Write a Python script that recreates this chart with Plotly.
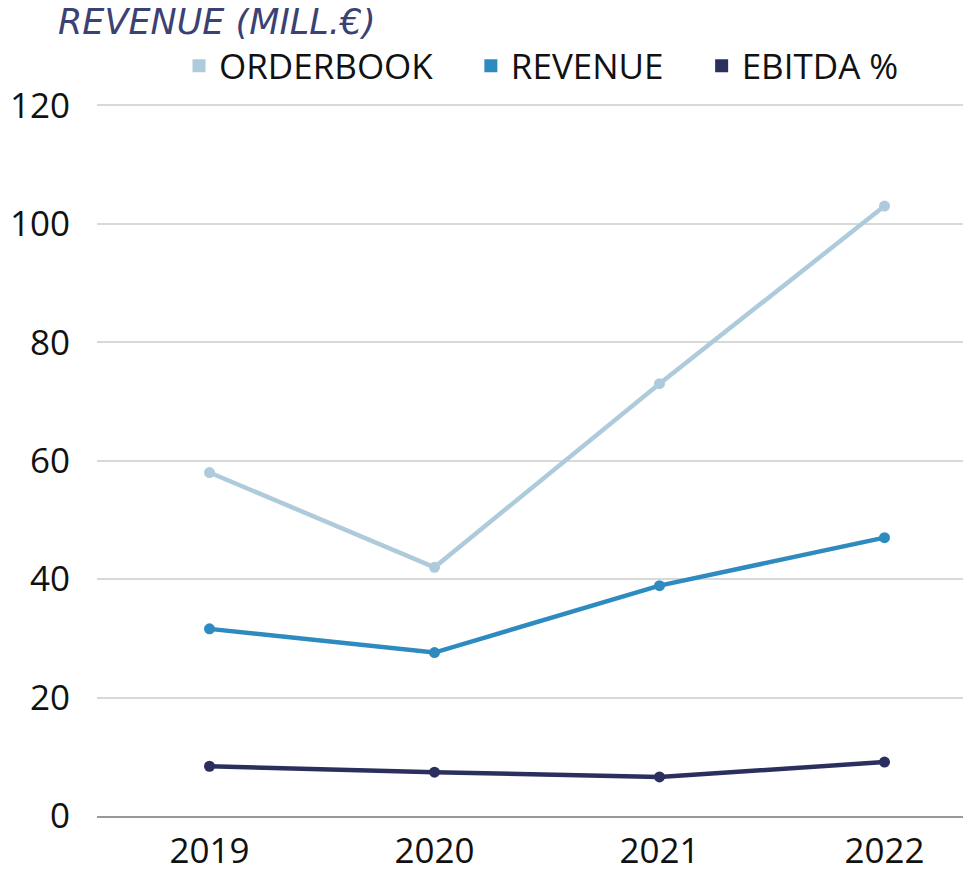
import plotly.graph_objects as go

years = ["2019", "2020", "2021", "2022"]
orderbook = [58, 42, 73, 103]
revenue = [31.6, 27.6, 38.9, 47.0]
ebitda = [8.4, 7.4, 6.6, 9.1]

series_names = ["ORDERBOOK", "REVENUE", "EBITDA %"]
legend_pad = "\u00a0\u00a0\u00a0\u2009"
colors = ["#aecbdb", "#2e8bbf", "#2b2f5e"]
tick_vals = [0, 20, 40, 60, 80, 100, 120]

fig = go.Figure()
for i, (name, vals, col) in enumerate(zip(series_names, [orderbook, revenue, ebitda], colors)):
    fig.add_trace(go.Scatter(
        x=years, y=vals, mode="lines+markers", name=name,
        line=dict(color=col, width=4.5),
        marker=dict(color=col, size=11),
        showlegend=False,
    ))
    fig.add_trace(go.Scatter(
        x=[None], y=[None], mode="markers",
        name=name + (legend_pad if i < len(series_names) - 1 else ""),
        marker=dict(color=col, size=13, symbol="square"),
        showlegend=True,
    ))

# page body has an 8px margin, so the figure is laid out 8px in from the window
W, H = 963, 862
L, T, R, B = 89, 95, 1, 54
plot_w, plot_h = W - L - R, H - T - B

fig.update_layout(
    width=W, height=H,
    paper_bgcolor="white", plot_bgcolor="white",
    margin=dict(l=L, r=R, t=T, b=B, autoexpand=False),
    font=dict(family="Open Sans", size=35, color="#111111"),
    title=dict(
        text="REVENUE (MILL.€)",
        x=50 / W, xanchor="left", y=1 - 14 / H, yanchor="middle",
        font=dict(family="DejaVu Sans", size=35, color="#3b4173", style="italic", weight=200),
    ),
    legend=dict(
        orientation="h", x=(171 - L) / plot_w, xanchor="left",
        y=1 + (T - 58) / plot_h, yanchor="middle",
        font=dict(family="Open Sans", size=35, color="#111111"),
        itemwidth=30, bgcolor="rgba(0,0,0,0)",
    ),
    xaxis=dict(
        type="category", range=[-0.5, 3.38], automargin=False,
        showgrid=False, showline=True, linecolor="#999999", linewidth=1.5,
        ticks="", tickfont=dict(size=35), ticklabelstandoff=3,
    ),
    yaxis=dict(
        range=[0, 120.4], tickvals=tick_vals, automargin=False,
        showgrid=True, gridcolor="#d9d9d9", gridwidth=1.5,
        zeroline=False, showline=False, ticks="",
        tickfont=dict(size=35), ticklabelstandoff=26,
    ),
)

fig.write_html("out.html")
